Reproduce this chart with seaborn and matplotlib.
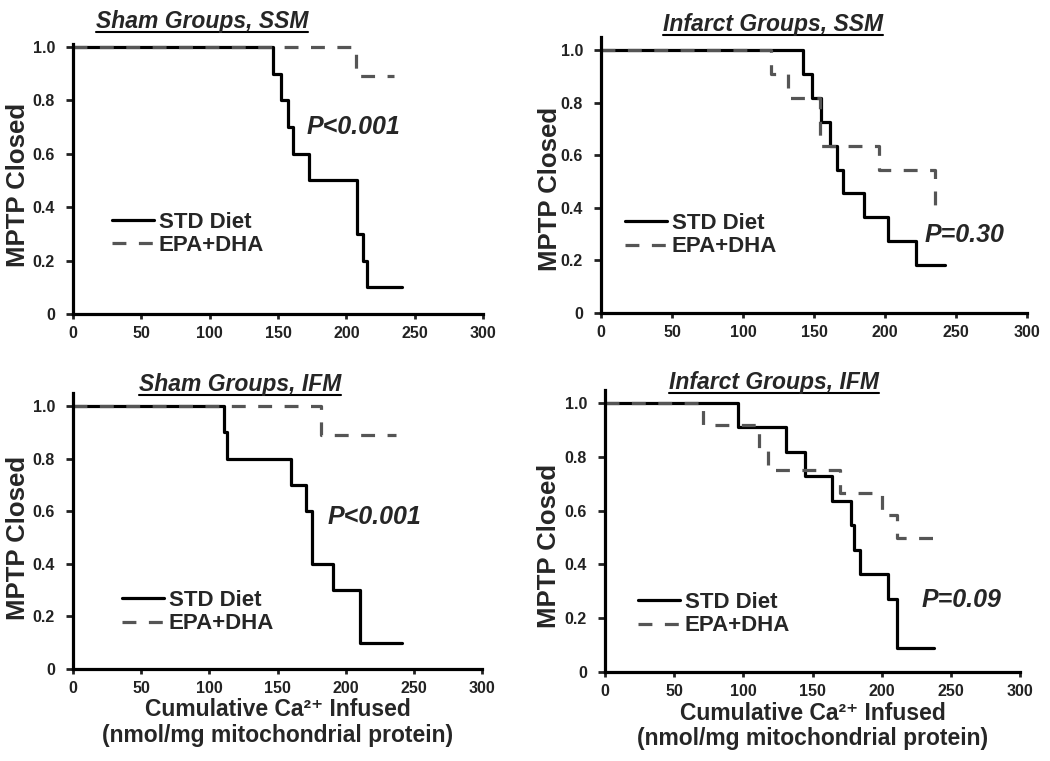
import numpy as np
import pandas as pd
import matplotlib
matplotlib.use("Agg")
import matplotlib.pyplot as plt
from matplotlib.lines import Line2D
import seaborn as sns

# Kaplan-Meier style step data
# panel 1: Sham Groups, SSM
sham_ssm_std_x = [0, 146, 152.5, 157, 161, 173, 208, 212, 215, 241]
sham_ssm_std_y = [1.0, 0.9, 0.8, 0.7, 0.6, 0.5, 0.3, 0.2, 0.1, 0.1]
sham_ssm_epa_x = [0, 207, 235]
sham_ssm_epa_y = [1.0, 0.89, 0.89]
# panel 2: Infarct Groups, SSM
inf_ssm_std_x = [0, 142, 148.5, 155, 161.5, 166.5, 170.5, 185, 202, 222, 242]
inf_ssm_std_y = [1.0, 0.909, 0.818, 0.727, 0.636, 0.545, 0.455, 0.364, 0.273, 0.182, 0.182]
inf_ssm_epa_x = [0, 120, 132, 154, 195.5, 235.5]
inf_ssm_epa_y = [1.0, 0.909, 0.818, 0.636, 0.545, 0.41]
# panel 3: Sham Groups, IFM
sham_ifm_std_x = [0, 110.5, 113, 160, 171, 175, 190.5, 210.5, 241.5]
sham_ifm_std_y = [1.0, 0.9, 0.8, 0.7, 0.6, 0.4, 0.3, 0.1, 0.1]
sham_ifm_epa_x = [0, 182, 237]
sham_ifm_epa_y = [1.0, 0.89, 0.89]
# panel 4: Infarct Groups, IFM
inf_ifm_std_x = [0, 96, 131, 144.5, 164, 177.5, 180, 184.5, 204.5, 211, 238]
inf_ifm_std_y = [1.0, 0.909, 0.818, 0.727, 0.636, 0.545, 0.455, 0.364, 0.273, 0.091, 0.091]
inf_ifm_epa_x = [0, 71, 111, 118, 170, 200.5, 211, 242]
inf_ifm_epa_y = [1.0, 0.917, 0.833, 0.75, 0.667, 0.583, 0.5, 0.5]

titles = ["Sham Groups, SSM", "Infarct Groups, SSM", "Sham Groups, IFM", "Infarct Groups, IFM"]
p_texts = ["P<0.001", "P=0.30", "P<0.001", "P=0.09"]
series_names = ["STD Diet", "EPA+DHA"]
x_ticks = [0, 50, 100, 150, 200, 250, 300]
y_ticks = [0, 0.2, 0.4, 0.6, 0.8, 1.0]
y_tick_labels = ["0", "0.2", "0.4", "0.6", "0.8", "1.0"]

sns.set_style("white")
plt.rcParams["font.family"] = ["Liberation Sans", "DejaVu Sans"]
plt.rcParams["lines.scale_dashes"] = False

W, H = 1050, 761
fig = plt.figure(figsize=(W / 100, H / 100), dpi=100)

# pixel layout: x of 0, x of 300, y of 0, y of 1.0, top of y range
layout = [
    (73, 483, 314, 47, 1.01),
    (601, 1027, 313, 50, 1.05),
    (73, 482, 669, 406, 1.05),
    (605, 1020, 672, 403, 1.05),
]
data = [
    (sham_ssm_std_x, sham_ssm_std_y, sham_ssm_epa_x, sham_ssm_epa_y),
    (inf_ssm_std_x, inf_ssm_std_y, inf_ssm_epa_x, inf_ssm_epa_y),
    (sham_ifm_std_x, sham_ifm_std_y, sham_ifm_epa_x, sham_ifm_epa_y),
    (inf_ifm_std_x, inf_ifm_std_y, inf_ifm_epa_x, inf_ifm_epa_y),
]
# legend top-left (data coords), p-value position (data coords)
legend_pos = [(28.5, 0.382), (17, 0.38), (36, 0.30), (24, 0.297)]
p_pos = [(171, 0.70), (228, 0.297), (187, 0.577), (229, 0.267)]
ylabel_pos = [(-0.105, 0.48), (-0.092, 0.45), (-0.105, 0.475), (-0.107, 0.447)]
# title centre x and baseline y (pixels)
title_pos = [(202, 28), (773, 31), (240, 391), (774, 389)]

axes = []
for i in range(4):
    x0, x300, y0, y1, ytop = layout[i]
    rect = [x0 / W, 1 - y0 / H, (x300 - x0) / W, (y0 - y1) * ytop / H]
    ax = fig.add_axes(rect)
    axes.append(ax)
    sx, sy, ex, ey = data[i]
    sns.lineplot(x=sx, y=sy, ax=ax, drawstyle="steps-post", color="black",
                 linewidth=2.3, estimator=None, sort=False, label=series_names[0])
    sns.lineplot(x=ex, y=ey, ax=ax, drawstyle="steps-post", color="#555555",
                 linewidth=2.3, estimator=None, sort=False, label=series_names[1])
    ax.lines[-1].set_dashes([10, 9])
    ax.set_xlim(0, 300)
    ax.set_ylim(0, ytop)
    ax.set_xticks(x_ticks)
    ax.set_yticks(y_ticks)
    ax.set_yticklabels(y_tick_labels)
    for s in ["top", "right"]:
        ax.spines[s].set_visible(False)
    for s in ["left", "bottom"]:
        ax.spines[s].set_linewidth(2.3)
        ax.spines[s].set_color("black")
    ax.tick_params(axis="x", direction="out", length=3.5, width=2, labelsize=11.5, pad=5,
                   colors="#222222", bottom=True)
    ax.tick_params(axis="y", direction="out", length=5, width=2, labelsize=11.5, pad=8,
                   colors="#222222", left=True)
    for lab in ax.get_xticklabels() + ax.get_yticklabels():
        lab.set_fontweight("bold")
    ax.set_ylabel("MPTP Closed", fontsize=18.5, fontweight="bold")
    ax.yaxis.set_label_coords(*ylabel_pos[i])
    if i >= 2:
        ax.set_xlabel("Cumulative Ca²⁺ Infused\n(nmol/mg mitochondrial protein)",
                      fontsize=16.5, fontweight="bold", linespacing=1.15)
        ax.xaxis.set_label_coords(0.5, -0.105)
    else:
        ax.set_xlabel("")
    ax.legend(loc="upper left", bbox_to_anchor=legend_pos[i], bbox_transform=ax.transData,
              frameon=False, borderpad=0, borderaxespad=0, handlelength=1.9,
              handletextpad=0.2, labelspacing=0.1,
              prop=dict(weight="bold", size=16))
    ax.text(p_pos[i][0], p_pos[i][1], p_texts[i], fontsize=18, fontweight="bold",
            style="italic", va="center", ha="left")

# titles, underlined
title_artists = []
for i in range(4):
    cx, by = title_pos[i]
    t = fig.text(cx / W, 1 - by / H, titles[i], fontsize=16.5, fontweight="bold",
                 style="italic", ha="center", va="baseline")
    title_artists.append(t)

fig.canvas.draw()
renderer = fig.canvas.get_renderer()
for i, t in enumerate(title_artists):
    bb = t.get_window_extent(renderer)
    by = title_pos[i][1] + 4
    fig.add_artist(Line2D([bb.x0 / W, bb.x1 / W], [1 - by / H, 1 - by / H],
                          transform=fig.transFigure, color="black", linewidth=1.5))

fig.savefig("out.png", dpi=100)
